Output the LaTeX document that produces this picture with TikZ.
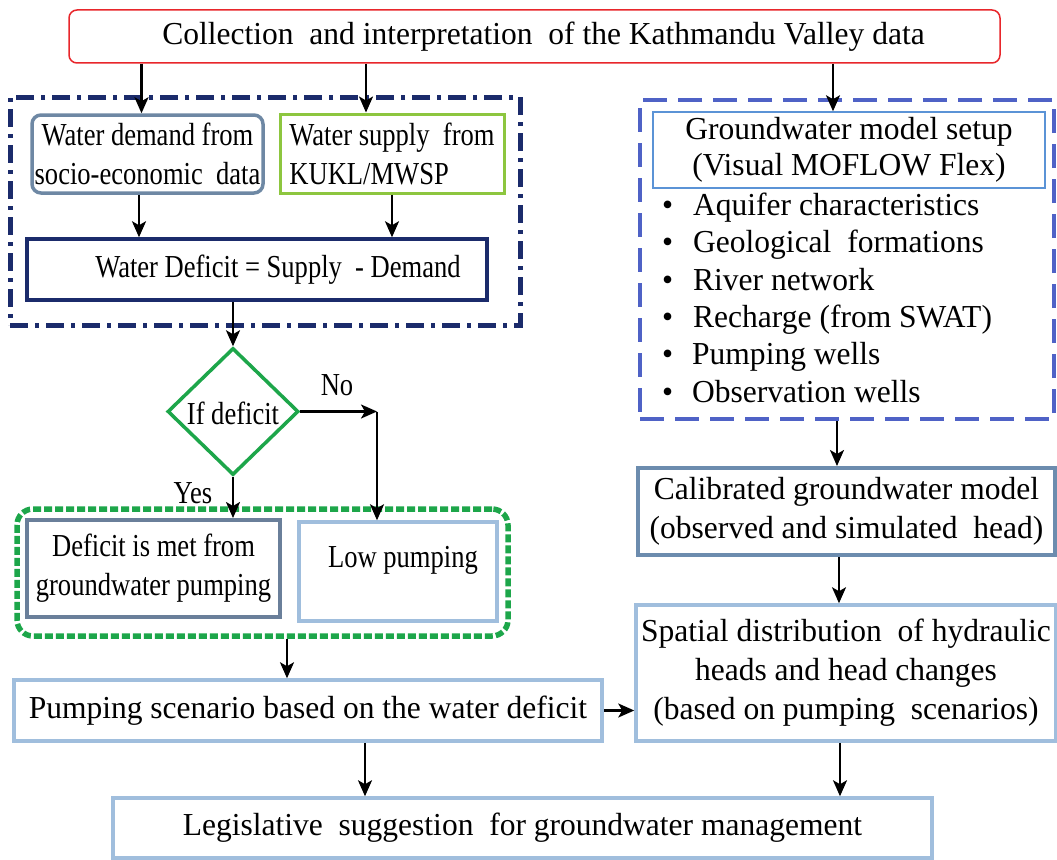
\documentclass[tikz,border=0pt]{standalone}
\usepackage{fontspec}
\setmainfont{Liberation Serif}[FakeStretch=0.98]
\newfontfamily\serifont{Liberation Serif}[FakeStretch=0.985]
\newfontfamily\condfont{Liberation Serif}[FakeStretch=0.83]
\usetikzlibrary{arrows.meta,shapes.geometric}
\definecolor{cred}{HTML}{E8262B}
\definecolor{navy}{HTML}{1B2B6B}
\definecolor{slateA}{HTML}{6E88A4}
\definecolor{lgreen}{HTML}{8DC63F}
\definecolor{dgreen}{HTML}{1DA64A}
\definecolor{slateB}{HTML}{6A7F9A}
\definecolor{lblue}{HTML}{A0BEDD}
\definecolor{slateC}{HTML}{6C8CAE}
\definecolor{setupblue}{HTML}{5B93D6}
\definecolor{dblue}{HTML}{4F62C6}
\begin{document}
\begin{tikzpicture}[x=1pt,y=-1pt,
  txt/.style={font=\serifont\fontsize{32}{39}\selectfont, text=black},
  ctxt/.style={font=\condfont\fontsize{32}{39}\selectfont, text=black},
  box/.style={draw, inner sep=0pt, align=center},
  arr/.style={-{Stealth[length=16pt,width=14pt,inset=4pt]}, line width=2.3pt, black},
  bul/.style={txt, anchor=base west, inner sep=0pt}]
\fill[white] (0,0) rectangle (1057,859);
\useasboundingbox (0,0) rectangle (1057,859);

% frames
\node[draw=navy, line width=5pt, dash pattern=on 18pt off 7pt on 4pt off 7pt, minimum width=510pt, minimum height=228pt, inner sep=0pt] (grpA) at (265,211) {};
\node[draw=dgreen, line width=5.5pt, dash pattern=on 8pt off 3pt, rounded corners=16pt, minimum width=491pt, minimum height=127pt, inner sep=0pt] (grpB) at (262.5,572.5) {};
\node[draw=dblue, line width=4pt, dash pattern=on 24pt off 11pt, minimum width=414pt, minimum height=319pt, inner sep=0pt] (grpC) at (847,259.5) {};

% boxes
\node[box, txt, draw=cred, line width=1.5pt, rounded corners=8pt, minimum width=931pt, minimum height=53pt] (top) at (534.5,36.5) {\hspace*{18pt}Collection\ \ and interpretation\ \ of the Kathmandu Valley data};
\node[box, ctxt, draw=slateA, line width=3.5pt, rounded corners=9pt, minimum width=231pt, minimum height=78pt] (dem) at (147.5,154) {Water demand from\\socio-economic\ \ data};
\node[box, ctxt, align=left, draw=lgreen, line width=3pt, minimum width=224pt, minimum height=79pt] (sup) at (392,153.5) {Water supply\ \ from\\KUKL/MWSP};
\node[box, ctxt, draw=navy, line width=3.5pt, minimum width=460pt, minimum height=61pt] (def) at (257,269.5) {\hspace*{42pt}Water Deficit = Supply\ \ - Demand};
\node[diamond, draw=dgreen, line width=3.5pt, minimum width=131pt, minimum height=127pt, inner sep=0pt] (dia) at (233,411.5) {};
\node[ctxt, inner sep=0pt] (diat) at ([yshift=-2pt]dia.center) {If deficit};
\node[box, ctxt, draw=slateB, line width=4pt, minimum width=253pt, minimum height=97pt] (met) at (153.5,568.5) {Deficit is met from\\groundwater pumping};
\node[box, draw=lblue, line width=3.5pt, minimum width=198pt, minimum height=99pt] (low) at (398,571.5) {};
\node[ctxt, inner sep=0pt] (lowt) at ([yshift=11pt,xshift=5pt]low.center) {Low pumping};
\node[box, txt, draw=lblue, line width=3.5pt, minimum width=588pt, minimum height=61pt] (pump) at (308,710.5) {Pumping scenario based on the water deficit};
\node[box, txt, draw=lblue, line width=3.5pt, minimum width=420pt, minimum height=136pt] (spat) at (846,673) {Spatial distribution\ \ of hydraulic\\heads and head changes\\(based on pumping\ \ scenarios)};
\node[box, txt, draw=lblue, line width=3.5pt, minimum width=819pt, minimum height=60pt] (leg) at (522.5,828) {Legislative\ \ suggestion\ \ for groundwater management};
\node[box, font=\serifont\fontsize{32}{36}\selectfont, draw=setupblue, line width=1.5pt, minimum width=392pt, minimum height=76pt] (setup) at (849,150) {Groundwater model setup\\(Visual MOFLOW Flex)};
\node[box, txt, draw=slateC, line width=4pt, minimum width=417pt, minimum height=87pt] (cal) at (846.5,511.5) {Calibrated groundwater model\\(observed and simulated\ \ head)};

% bullets
\node[bul] (b1) at (662,215) {\makebox[31pt][l]{•}Aquifer characteristics};
\node[bul] (b2) at (662,252.5) {\makebox[31pt][l]{•}Geological\ \ formations};
\node[bul] (b3) at (662,290) {\makebox[31pt][l]{•}River network};
\node[bul] (b4) at (662,327) {\makebox[31pt][l]{•}Recharge (from SWAT)};
\node[bul] (b5) at (662,364.5) {\makebox[30pt][l]{•}Pumping wells};
\node[bul] (b6) at (662,402) {\makebox[30pt][l]{•}Observation wells};

% labels
\node[ctxt, inner sep=0pt] (no) at (337,385) {No};
\node[ctxt, inner sep=0pt] (yes) at (193,493) {Yes};

% connectors
\draw[arr] ([xshift=-6pt]dem.north |- top.south) -- ([xshift=-6pt]dem.north);
\draw[arr] ([xshift=-26pt]sup.north |- top.south) -- ([xshift=-26pt]sup.north);
\draw[arr] ([xshift=-16pt]setup.north |- top.south) -- ([xshift=-16pt]setup.north);
\draw[arr] ([xshift=-8.5pt]dem.south) -- ([xshift=-8.5pt]dem.south |- def.north);
\draw[arr] (sup.south) -- (sup.south |- def.north);
\draw[arr] (dia.north |- def.south) -- (dia.north);
\coordinate (nj) at ([xshift=-21pt]low.north |- dia.east);
\draw[arr] (dia.east) -- (nj);
\draw[arr] (nj) -- (nj |- low.north);
\draw[arr] (dia.south) -- (dia.south |- met.north);
\draw[arr] ([xshift=-21pt]pump.north |- grpB.south) -- ([xshift=-21pt]pump.north);
\draw[arr] (pump.east) -- (pump.east -| spat.west);
\draw[arr] ([xshift=57pt]pump.south) -- ([xshift=57pt]pump.south |- leg.north);
\draw[arr] ([xshift=-6pt]spat.south) -- ([xshift=-6pt]spat.south |- leg.north);
\draw[arr] ([xshift=-9.5pt]cal.north |- grpC.south) -- ([xshift=-9.5pt]cal.north);
\draw[arr] ([xshift=-7.5pt]cal.south) -- ([xshift=-7.5pt]cal.south |- spat.north);
\end{tikzpicture}
\end{document}
